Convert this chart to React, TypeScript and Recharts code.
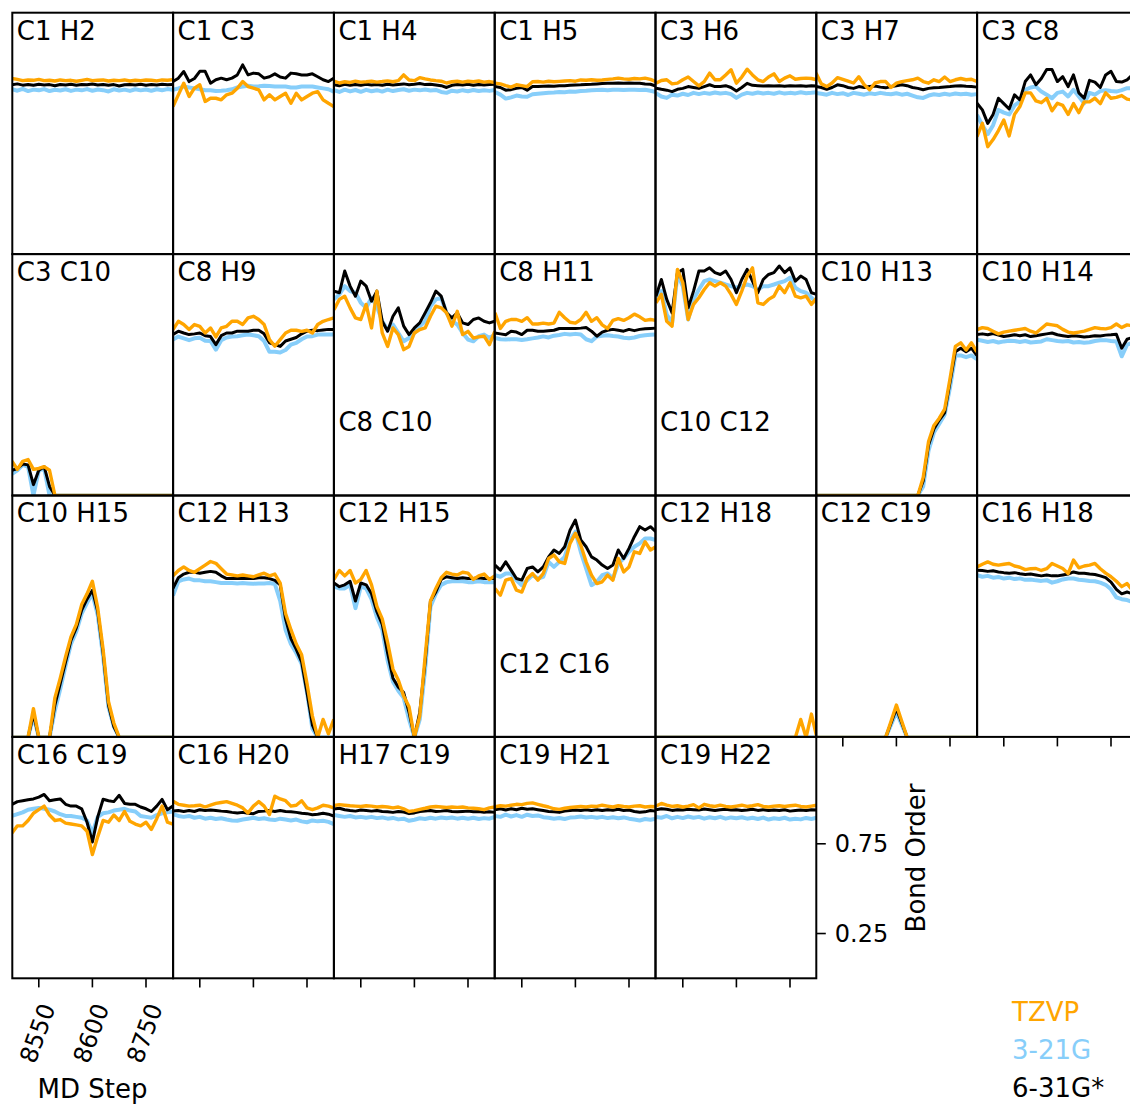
import React from 'react';
import { LineChart, Line, XAxis, YAxis } from 'recharts';

const FONT = '"DejaVu Sans", sans-serif';
const ORANGE = '#ffa500';
const SKY = '#87cefa';

const steps = [8500, 8510, 8520, 8530, 8540, 8550, 8560, 8570, 8580, 8590, 8600, 8610, 8620, 8630, 8640, 8650, 8660, 8670, 8680, 8690, 8700, 8710, 8720, 8730, 8740, 8750, 8760, 8770, 8780, 8790, 8800];

const bonds = [
  'C1 H2', 'C1 C3', 'C1 H4', 'C1 H5', 'C3 H6', 'C3 H7', 'C3 C8',
  'C3 C10', 'C8 H9', 'C8 C10', 'C8 H11', 'C10 C12', 'C10 H13', 'C10 H14',
  'C10 H15', 'C12 H13', 'C12 H15', 'C12 C16', 'C12 H18', 'C12 C19', 'C16 H18',
  'C16 C19', 'C16 H20', 'H17 C19', 'C19 H21', 'C19 H22',
];
const lowTitles = ['C8 C10', 'C10 C12', 'C12 C16'];

const stepTicks = [8550, 8650, 8750];
const stepTickLabels = ['8550', '8600', '8750'];
const orderTicks = [0.25, 0.75];

const seriesNames = ['TZVP', '3-21G', '6-31G*'];
const seriesColors = [ORANGE, SKY, '#000000'];

// TZVP bond orders, one list per bond (same order as bonds)
const tzvp = [
  [0.98, 0.975, 0.968, 0.972, 0.97, 0.975, 0.968, 0.97, 0.966, 0.972, 0.968, 0.97, 0.965, 0.97, 0.975, 0.968, 0.97, 0.972, 0.966, 0.97, 0.968, 0.972, 0.966, 0.97, 0.968, 0.972, 0.97, 0.967, 0.972, 0.97, 0.974],
  [0.824, 0.889, 0.954, 0.88, 0.926, 0.945, 0.852, 0.87, 0.87, 0.861, 0.889, 0.898, 0.926, 0.963, 0.935, 0.926, 0.917, 0.861, 0.889, 0.861, 0.88, 0.898, 0.842, 0.898, 0.861, 0.88, 0.898, 0.907, 0.861, 0.842, 0.824],
  [0.965, 0.955, 0.962, 0.958, 0.965, 0.96, 0.962, 0.965, 0.96, 0.963, 0.967, 0.962, 0.968, 1.0, 0.972, 0.968, 0.985, 0.978, 0.972, 0.968, 0.965, 0.955, 0.962, 0.965, 0.96, 0.965, 0.962, 0.966, 0.96, 0.963, 0.958],
  [0.954, 0.95, 0.94, 0.932, 0.945, 0.94, 0.935, 0.962, 0.963, 0.96, 0.965, 0.962, 0.964, 0.966, 0.968, 0.965, 0.972, 0.97, 0.973, 0.97, 0.972, 0.975, 0.978, 0.982, 0.978, 0.976, 0.98, 0.978, 0.982, 0.975, 0.963],
  [0.954, 0.969, 0.973, 0.95, 0.954, 0.973, 0.988, 0.963, 0.939, 0.963, 1.01, 0.973, 0.973, 1.0, 1.029, 0.954, 0.988, 1.032, 1.0, 0.973, 0.963, 0.988, 1.006, 0.963, 0.982, 0.995, 0.976, 0.98, 0.982, 0.98, 0.973],
  [1.01, 0.95, 0.935, 0.955, 0.985, 0.975, 0.965, 0.955, 0.99, 0.945, 0.917, 0.955, 0.963, 0.963, 0.93, 0.954, 0.963, 0.968, 0.973, 0.982, 0.963, 0.954, 0.973, 0.963, 0.988, 0.963, 0.973, 0.98, 0.973, 0.976, 0.963],
  [0.656, 0.73, 0.6, 0.64, 0.69, 0.749, 0.66, 0.78, 0.824, 0.9, 0.9, 0.855, 0.845, 0.87, 0.8, 0.842, 0.83, 0.78, 0.84, 0.79, 0.85, 0.85, 0.87, 0.84, 0.9, 0.87, 0.875, 0.885, 0.865, 0.86, 0.87],
  [0.19, 0.145, 0.19, 0.2, 0.145, 0.15, 0.16, 0.14, 0, 0, 0, 0, 0, 0, 0, 0, 0, 0, 0, 0, 0, 0, 0, 0, 0, 0, 0, 0, 0, 0, 0],
  [0.924, 0.97, 0.952, 0.924, 0.952, 0.942, 0.905, 0.933, 0.883, 0.933, 0.942, 0.97, 0.97, 0.952, 0.989, 0.998, 0.98, 0.952, 0.868, 0.831, 0.868, 0.905, 0.92, 0.92, 0.914, 0.92, 0.905, 0.952, 0.97, 0.98, 0.989],
  [1.035, 1.092, 1.11, 1.045, 0.989, 0.98, 1.064, 0.933, 1.138, 0.905, 0.83, 0.933, 0.896, 0.812, 0.83, 0.905, 0.924, 0.933, 0.998, 1.054, 1.045, 1.017, 0.943, 1.026, 0.896, 0.914, 0.877, 0.883, 0.887, 0.84, 0.914],
  [1.017, 0.93, 0.97, 0.98, 0.98, 0.97, 0.99, 0.955, 0.955, 0.96, 0.955, 0.96, 1.02, 0.99, 0.965, 0.96, 0.98, 1.02, 0.97, 0.99, 0.95, 0.93, 0.975, 0.985, 0.975, 0.99, 1.01, 0.995, 0.975, 0.98, 0.975],
  [1.073, 1.12, 0.97, 0.943, 1.259, 1.185, 0.98, 1.064, 1.101, 1.147, 1.185, 1.166, 1.185, 1.166, 1.12, 1.064, 1.138, 1.222, 1.268, 1.073, 1.064, 1.092, 1.11, 1.166, 1.129, 1.185, 1.11, 1.101, 1.11, 1.064, 1.101],
  [0, 0, 0, 0, 0, 0, 0, 0, 0, 0, 0, 0, 0, 0, 0, 0, 0, 0, 0, 0, 0.1, 0.3, 0.39, 0.43, 0.48, 0.65, 0.83, 0.85, 0.81, 0.85, 0.8],
  [0.924, 0.935, 0.93, 0.915, 0.9, 0.91, 0.915, 0.92, 0.925, 0.93, 0.915, 0.905, 0.93, 0.955, 0.95, 0.945, 0.925, 0.91, 0.905, 0.91, 0.915, 0.925, 0.935, 0.93, 0.928, 0.935, 0.955, 0.935, 0.95, 0.945, 0.94],
  [0, 0, 0, 0, 0.16, 0, 0, 0, 0.22, 0.33, 0.45, 0.56, 0.63, 0.74, 0.8, 0.87, 0.72, 0.49, 0.2, 0.08, 0, 0, 0, 0, 0, 0, 0, 0, 0, 0, 0],
  [0.9, 0.93, 0.95, 0.93, 0.92, 0.94, 0.96, 0.98, 0.97, 0.94, 0.91, 0.905, 0.9, 0.905, 0.9, 0.895, 0.905, 0.915, 0.9, 0.91, 0.86, 0.69, 0.6, 0.52, 0.46, 0.3, 0.12, 0, 0.1, 0.02, 0.1],
  [0.88, 0.93, 0.9, 0.93, 0.86, 0.88, 0.93, 0.85, 0.73, 0.66, 0.53, 0.38, 0.32, 0.23, 0.17, 0, 0.12, 0.45, 0.76, 0.83, 0.89, 0.92, 0.91, 0.905, 0.92, 0.915, 0.88, 0.9, 0.91, 0.88, 0.9],
  [0.829, 0.792, 0.876, 0.885, 0.82, 0.81, 0.885, 0.913, 0.876, 0.913, 0.997, 1.016, 0.978, 0.969, 1.081, 1.137, 1.072, 0.978, 0.904, 0.857, 0.867, 0.904, 0.876, 0.997, 0.922, 0.95, 1.034, 1.025, 1.09, 1.044, 1.062],
  [0, 0, 0, 0, 0, 0, 0, 0, 0, 0, 0, 0, 0, 0, 0, 0, 0, 0, 0, 0, 0, 0, 0, 0, 0, 0, 0, 0.1, 0, 0.13, 0],
  [0, 0, 0, 0, 0, 0, 0, 0, 0, 0, 0, 0, 0, 0, 0.09, 0.18, 0.09, 0, 0, 0, 0, 0, 0, 0, 0, 0, 0, 0, 0, 0, 0],
  [0.95, 0.965, 0.978, 0.965, 0.96, 0.965, 0.969, 0.955, 0.948, 0.935, 0.94, 0.941, 0.93, 0.94, 0.969, 0.955, 0.941, 0.913, 0.988, 0.945, 0.955, 0.96, 0.969, 0.94, 0.915, 0.895, 0.87, 0.84, 0.857, 0.82, 0.83],
  [0.81, 0.85, 0.85, 0.88, 0.92, 0.94, 0.96, 0.91, 0.88, 0.885, 0.865, 0.86, 0.855, 0.85, 0.82, 0.69, 0.79, 0.88, 0.87, 0.91, 0.88, 0.93, 0.875, 0.86, 0.85, 0.87, 0.83, 0.89, 0.96, 0.87, 0.86],
  [0.987, 0.97, 0.965, 0.96, 0.962, 0.965, 0.955, 0.965, 0.975, 0.98, 0.985, 0.975, 0.965, 0.95, 0.922, 0.96, 0.985, 0.96, 0.913, 1.015, 1.0, 0.99, 0.96, 0.965, 0.99, 0.95, 0.94, 0.95, 0.965, 0.96, 0.95],
  [0.963, 0.968, 0.965, 0.962, 0.96, 0.958, 0.962, 0.96, 0.955, 0.958, 0.955, 0.95, 0.955, 0.945, 0.93, 0.935, 0.942, 0.948, 0.955, 0.958, 0.955, 0.952, 0.955, 0.953, 0.955, 0.95, 0.948, 0.945, 0.94, 0.95, 0.955],
  [0.956, 0.962, 0.96, 0.965, 0.97, 0.968, 0.975, 0.978, 0.97, 0.962, 0.955, 0.945, 0.942, 0.948, 0.952, 0.955, 0.958, 0.955, 0.96, 0.958, 0.965, 0.96, 0.955, 0.962, 0.958, 0.955, 0.96, 0.962, 0.955, 0.958, 0.956],
  [0.96, 0.975, 0.965, 0.958, 0.962, 0.955, 0.96, 0.968, 0.95, 0.97, 0.962, 0.958, 0.965, 0.958, 0.955, 0.96, 0.965, 0.958, 0.962, 0.968, 0.958, 0.955, 0.96, 0.962, 0.958, 0.962, 0.965, 0.958, 0.955, 0.96, 0.965],
];

// 3-21G bond orders
const g321 = [
  [0.92, 0.912, 0.922, 0.91, 0.918, 0.914, 0.921, 0.91, 0.917, 0.913, 0.92, 0.911, 0.918, 0.914, 0.921, 0.912, 0.919, 0.915, 0.908, 0.92, 0.913, 0.918, 0.911, 0.92, 0.914, 0.919, 0.912, 0.92, 0.915, 0.921, 0.917],
  [0.917, 0.925, 0.935, 0.93, 0.925, 0.92, 0.915, 0.915, 0.91, 0.912, 0.915, 0.92, 0.93, 0.935, 0.94, 0.935, 0.937, 0.94, 0.938, 0.935, 0.935, 0.935, 0.93, 0.93, 0.935, 0.935, 0.935, 0.93, 0.925, 0.92, 0.907],
  [0.915, 0.905, 0.918, 0.908, 0.916, 0.906, 0.917, 0.909, 0.915, 0.907, 0.918, 0.91, 0.916, 0.92, 0.912, 0.918, 0.914, 0.919, 0.913, 0.916, 0.905, 0.9, 0.912, 0.908, 0.915, 0.909, 0.916, 0.91, 0.915, 0.911, 0.916],
  [0.905, 0.89, 0.868, 0.875, 0.885, 0.88, 0.878, 0.892, 0.895, 0.898, 0.9, 0.902, 0.905, 0.904, 0.907, 0.906, 0.91, 0.912, 0.915, 0.916, 0.917, 0.915, 0.917, 0.918, 0.916, 0.917, 0.918, 0.916, 0.917, 0.912, 0.905],
  [0.898, 0.88, 0.872, 0.89, 0.885, 0.895, 0.888, 0.9, 0.893, 0.9, 0.895, 0.902, 0.896, 0.9, 0.893, 0.872, 0.89, 0.9, 0.895, 0.902, 0.897, 0.9, 0.895, 0.903, 0.896, 0.9, 0.897, 0.903, 0.898, 0.9, 0.903],
  [0.9, 0.895, 0.89, 0.9, 0.893, 0.898, 0.888, 0.9, 0.895, 0.89, 0.898, 0.893, 0.9, 0.895, 0.892, 0.898, 0.89, 0.895, 0.885, 0.875, 0.872, 0.885, 0.892, 0.888, 0.895, 0.89, 0.896, 0.892, 0.895, 0.89, 0.893],
  [0.777, 0.72, 0.67, 0.72, 0.805, 0.79, 0.78, 0.83, 0.852, 0.917, 0.93, 0.935, 0.907, 0.89, 0.87, 0.9, 0.907, 0.88, 0.917, 0.88, 0.842, 0.9, 0.89, 0.91, 0.915, 0.91, 0.907, 0.915, 0.926, 0.925, 0.93],
  [0.12, 0.14, 0.17, 0.16, 0, 0.14, 0.15, 0, 0, 0, 0, 0, 0, 0, 0, 0, 0, 0, 0, 0, 0, 0, 0, 0, 0, 0, 0, 0, 0, 0, 0],
  [0.868, 0.885, 0.875, 0.865, 0.875, 0.878, 0.862, 0.86, 0.812, 0.865, 0.88, 0.885, 0.887, 0.892, 0.896, 0.892, 0.887, 0.86, 0.8, 0.8, 0.796, 0.81, 0.84, 0.85, 0.87, 0.885, 0.887, 0.896, 0.896, 0.896, 0.896],
  [1.092, 1.12, 1.166, 1.138, 1.129, 1.073, 1.045, 1.101, 1.054, 0.97, 0.924, 0.952, 0.905, 0.859, 0.877, 0.905, 0.943, 0.97, 1.054, 1.092, 1.101, 1.017, 0.97, 0.952, 0.905, 0.868, 0.859, 0.887, 0.896, 0.877, 0.896],
  [0.878, 0.87, 0.868, 0.87, 0.87, 0.866, 0.87, 0.875, 0.88, 0.886, 0.88, 0.89, 0.894, 0.9, 0.896, 0.9, 0.896, 0.87, 0.859, 0.885, 0.89, 0.892, 0.888, 0.885, 0.878, 0.876, 0.88, 0.888, 0.892, 0.895, 0.896],
  [1.092, 1.138, 1.008, 0.961, 1.231, 1.166, 0.98, 1.092, 1.147, 1.194, 1.203, 1.194, 1.185, 1.175, 1.166, 1.157, 1.166, 1.175, 1.166, 1.147, 1.166, 1.166, 1.175, 1.185, 1.194, 1.213, 1.157, 1.138, 1.129, 1.101, 1.073],
  [0, 0, 0, 0, 0, 0, 0, 0, 0, 0, 0, 0, 0, 0, 0, 0, 0, 0, 0, 0, 0.05, 0.25, 0.35, 0.4, 0.45, 0.6, 0.78, 0.78, 0.77, 0.78, 0.76],
  [0.868, 0.862, 0.855, 0.86, 0.852, 0.858, 0.862, 0.86, 0.855, 0.86, 0.852, 0.855, 0.858, 0.87, 0.865, 0.86, 0.858, 0.86, 0.852, 0.855, 0.85, 0.853, 0.86, 0.864, 0.865, 0.86, 0.858, 0.775, 0.84, 0.85, 0.855],
  [0, 0, 0, 0, 0.12, 0, 0, 0, 0.15, 0.27, 0.4, 0.52, 0.59, 0.69, 0.75, 0.8, 0.68, 0.45, 0.17, 0.06, 0, 0, 0, 0, 0, 0, 0, 0, 0, 0, 0],
  [0.79, 0.87, 0.88, 0.885, 0.875, 0.875, 0.87, 0.87, 0.865, 0.86, 0.86, 0.86, 0.858, 0.86, 0.858, 0.856, 0.858, 0.858, 0.86, 0.855, 0.76, 0.6, 0.52, 0.47, 0.41, 0.25, 0.05, 0, 0, 0, 0],
  [0.84, 0.83, 0.83, 0.85, 0.72, 0.84, 0.83, 0.77, 0.67, 0.6, 0.43, 0.31, 0.26, 0.22, 0.1, 0, 0.1, 0.38, 0.73, 0.8, 0.85, 0.865, 0.87, 0.87, 0.87, 0.865, 0.865, 0.87, 0.865, 0.865, 0.865],
  [0.904, 0.895, 0.913, 0.913, 0.876, 0.848, 0.876, 0.904, 0.885, 0.895, 0.978, 0.95, 0.978, 1.006, 1.1, 1.146, 1.034, 0.941, 0.848, 0.867, 0.904, 0.913, 0.885, 0.969, 0.997, 1.034, 1.062, 1.081, 1.108, 1.108, 1.1],
  [0, 0, 0, 0, 0, 0, 0, 0, 0, 0, 0, 0, 0, 0, 0, 0, 0, 0, 0, 0, 0, 0, 0, 0, 0, 0, 0, 0, 0, 0, 0],
  [0, 0, 0, 0, 0, 0, 0, 0, 0, 0, 0, 0, 0, 0, 0.07, 0.14, 0.07, 0, 0, 0, 0, 0, 0, 0, 0, 0, 0, 0, 0, 0, 0],
  [0.904, 0.895, 0.9, 0.89, 0.894, 0.885, 0.89, 0.882, 0.886, 0.878, 0.88, 0.875, 0.872, 0.876, 0.862, 0.87, 0.88, 0.885, 0.885, 0.878, 0.875, 0.872, 0.87, 0.862, 0.85, 0.825, 0.78, 0.77, 0.765, 0.755, 0.75],
  [0.905, 0.915, 0.925, 0.94, 0.945, 0.95, 0.945, 0.94, 0.93, 0.915, 0.905, 0.905, 0.9, 0.895, 0.88, 0.81, 0.9, 0.92, 0.925, 0.935, 0.94, 0.945, 0.935, 0.93, 0.905, 0.9, 0.895, 0.91, 0.92, 0.925, 0.93],
  [0.915, 0.905, 0.9, 0.905, 0.895, 0.9, 0.89, 0.895, 0.888, 0.892, 0.885, 0.88, 0.878, 0.885, 0.89, 0.895, 0.888, 0.892, 0.885, 0.882, 0.89, 0.885, 0.88, 0.885, 0.875, 0.87, 0.88, 0.875, 0.878, 0.872, 0.86],
  [0.91, 0.905, 0.9, 0.905, 0.897, 0.9, 0.895, 0.9, 0.893, 0.897, 0.89, 0.894, 0.886, 0.89, 0.878, 0.884, 0.892, 0.888, 0.895, 0.89, 0.896, 0.892, 0.896, 0.89, 0.895, 0.89, 0.895, 0.888, 0.893, 0.89, 0.9],
  [0.905, 0.9, 0.912, 0.902, 0.91, 0.9, 0.912, 0.905, 0.908, 0.898, 0.895, 0.89, 0.894, 0.888, 0.896, 0.898, 0.902, 0.896, 0.9, 0.895, 0.9, 0.893, 0.898, 0.892, 0.897, 0.89, 0.885, 0.88, 0.888, 0.884, 0.89],
  [0.9, 0.895, 0.905, 0.892, 0.9, 0.893, 0.902, 0.895, 0.9, 0.89, 0.898, 0.892, 0.9, 0.89, 0.897, 0.892, 0.898, 0.89, 0.895, 0.888, 0.896, 0.885, 0.892, 0.888, 0.895, 0.885, 0.89, 0.886, 0.894, 0.888, 0.895],
];

// 6-31G* bond orders
const g631 = [
  [0.945, 0.95, 0.943, 0.947, 0.942, 0.948, 0.944, 0.946, 0.94, 0.947, 0.944, 0.948, 0.943, 0.946, 0.945, 0.949, 0.944, 0.947, 0.943, 0.946, 0.938, 0.945, 0.947, 0.944, 0.948, 0.943, 0.946, 0.944, 0.948, 0.945, 0.947],
  [0.963, 0.982, 1.019, 0.963, 0.98, 1.02, 1.02, 0.954, 0.973, 0.982, 0.973, 0.982, 1.0, 1.056, 1.0, 1.01, 1.006, 0.982, 0.99, 1.006, 0.988, 0.982, 1.01, 1.006, 1.0, 1.0, 1.006, 0.99, 0.973, 0.963, 0.982],
  [0.945, 0.94, 0.948, 0.942, 0.947, 0.943, 0.948, 0.944, 0.946, 0.942, 0.948, 0.944, 0.947, 0.95, 0.945, 0.948, 0.952, 0.946, 0.948, 0.944, 0.94, 0.93, 0.942, 0.946, 0.944, 0.948, 0.943, 0.947, 0.944, 0.946, 0.948],
  [0.935, 0.93, 0.915, 0.918, 0.925, 0.93, 0.915, 0.935, 0.936, 0.937, 0.938, 0.937, 0.94, 0.939, 0.942, 0.944, 0.945, 0.947, 0.948, 0.95, 0.952, 0.954, 0.953, 0.955, 0.954, 0.955, 0.953, 0.954, 0.95, 0.948, 0.938],
  [0.926, 0.92, 0.915, 0.907, 0.92, 0.925, 0.935, 0.93, 0.925, 0.935, 0.945, 0.935, 0.935, 0.94, 0.93, 0.91, 0.93, 0.953, 0.942, 0.94, 0.938, 0.94, 0.938, 0.94, 0.937, 0.94, 0.938, 0.94, 0.937, 0.94, 0.938],
  [0.935, 0.93, 0.92, 0.93, 0.945, 0.94, 0.93, 0.925, 0.935, 0.93, 0.935, 0.938, 0.932, 0.928, 0.935, 0.94, 0.945, 0.94, 0.93, 0.925, 0.917, 0.925, 0.928, 0.93, 0.933, 0.935, 0.938, 0.94, 0.937, 0.935, 0.932],
  [0.842, 0.805, 0.73, 0.78, 0.87, 0.84, 0.81, 0.889, 0.861, 0.963, 1.0, 0.945, 0.98, 1.03, 1.03, 0.963, 0.99, 0.935, 1.0, 0.9, 0.87, 0.97, 0.96, 0.93, 1.0, 1.02, 0.963, 0.96, 0.973, 1.0, 0.99],
  [0.14, 0.15, 0.175, 0.17, 0.06, 0.14, 0.16, 0.05, 0, 0, 0, 0, 0, 0, 0, 0, 0, 0, 0, 0, 0, 0, 0, 0, 0, 0, 0, 0, 0, 0, 0],
  [0.896, 0.915, 0.905, 0.896, 0.9, 0.905, 0.89, 0.885, 0.84, 0.89, 0.905, 0.905, 0.915, 0.915, 0.915, 0.92, 0.92, 0.9, 0.85, 0.84, 0.83, 0.86, 0.87, 0.88, 0.9, 0.915, 0.92, 0.918, 0.922, 0.925, 0.924],
  [1.138, 1.129, 1.25, 1.166, 1.11, 1.194, 1.166, 1.082, 1.138, 0.97, 0.915, 0.998, 1.045, 0.943, 0.896, 0.933, 0.961, 1.017, 1.073, 1.138, 1.11, 1.017, 0.989, 1.017, 0.961, 0.952, 0.98, 0.989, 0.97, 0.961, 0.97],
  [0.905, 0.9, 0.895, 0.914, 0.91, 0.896, 0.92, 0.92, 0.915, 0.915, 0.918, 0.92, 0.93, 0.93, 0.93, 0.93, 0.932, 0.935, 0.915, 0.887, 0.91, 0.92, 0.925, 0.92, 0.915, 0.925, 0.918, 0.925, 0.928, 0.93, 0.932],
  [1.11, 1.203, 1.092, 1.017, 1.241, 1.259, 1.045, 1.138, 1.25, 1.25, 1.268, 1.241, 1.231, 1.25, 1.203, 1.129, 1.203, 1.259, 1.194, 1.129, 1.203, 1.231, 1.241, 1.278, 1.241, 1.268, 1.194, 1.222, 1.203, 1.129, 1.12],
  [0, 0, 0, 0, 0, 0, 0, 0, 0, 0, 0, 0, 0, 0, 0, 0, 0, 0, 0, 0, 0.08, 0.28, 0.37, 0.42, 0.46, 0.63, 0.8, 0.82, 0.8, 0.82, 0.78],
  [0.896, 0.9, 0.895, 0.902, 0.893, 0.885, 0.89, 0.895, 0.89, 0.895, 0.885, 0.89, 0.895, 0.9, 0.905, 0.895, 0.89, 0.885, 0.89, 0.887, 0.883, 0.885, 0.89, 0.888, 0.893, 0.895, 0.898, 0.82, 0.87, 0.88, 0.885],
  [0, 0, 0, 0, 0.13, 0, 0, 0, 0.18, 0.3, 0.42, 0.54, 0.61, 0.71, 0.77, 0.82, 0.7, 0.47, 0.18, 0.06, 0, 0, 0, 0, 0, 0, 0, 0, 0, 0, 0],
  [0.83, 0.89, 0.91, 0.92, 0.92, 0.915, 0.92, 0.925, 0.92, 0.9, 0.885, 0.885, 0.885, 0.885, 0.885, 0.885, 0.89, 0.89, 0.885, 0.875, 0.85, 0.66, 0.55, 0.49, 0.42, 0.25, 0.07, 0, 0, 0, 0],
  [0.86, 0.84, 0.85, 0.87, 0.76, 0.86, 0.85, 0.8, 0.7, 0.63, 0.47, 0.33, 0.28, 0.25, 0.14, 0, 0.14, 0.42, 0.76, 0.81, 0.88, 0.895, 0.89, 0.885, 0.89, 0.885, 0.885, 0.89, 0.885, 0.885, 0.885],
  [0.96, 0.932, 0.978, 0.932, 0.885, 0.876, 0.941, 0.95, 0.922, 0.95, 1.006, 1.044, 1.025, 1.062, 1.155, 1.211, 1.1, 1.062, 1.006, 0.988, 0.96, 0.941, 0.96, 1.044, 0.997, 1.053, 1.118, 1.174, 1.155, 1.174, 1.146],
  [0, 0, 0, 0, 0, 0, 0, 0, 0, 0, 0, 0, 0, 0, 0, 0, 0, 0, 0, 0, 0, 0, 0, 0, 0, 0, 0, 0, 0, 0, 0],
  [0, 0, 0, 0, 0, 0, 0, 0, 0, 0, 0, 0, 0, 0, 0.08, 0.16, 0.08, 0, 0, 0, 0, 0, 0, 0, 0, 0, 0, 0, 0, 0, 0],
  [0.932, 0.93, 0.925, 0.928, 0.922, 0.918, 0.915, 0.918, 0.912, 0.908, 0.91, 0.905, 0.9, 0.905, 0.9, 0.9, 0.905, 0.91, 0.922, 0.915, 0.915, 0.91, 0.908, 0.9, 0.89, 0.865, 0.825, 0.8, 0.81, 0.8, 0.795],
  [0.969, 0.985, 0.99, 0.995, 1.0, 1.01, 1.025, 0.99, 0.995, 1.0, 0.97, 0.96, 0.96, 0.945, 0.87, 0.76, 0.9, 0.998, 0.99, 0.985, 1.02, 0.975, 0.97, 0.97, 0.955, 0.945, 0.93, 0.96, 0.997, 0.94, 0.96],
  [0.932, 0.935, 0.93, 0.935, 0.93, 0.94, 0.935, 0.938, 0.935, 0.932, 0.93, 0.925, 0.922, 0.925, 0.92, 0.918, 0.93, 0.932, 0.935, 0.93, 0.935, 0.93, 0.928, 0.925, 0.92, 0.918, 0.912, 0.915, 0.92, 0.915, 0.905],
  [0.944, 0.948, 0.94, 0.935, 0.932, 0.938, 0.935, 0.932, 0.935, 0.93, 0.928, 0.925, 0.93, 0.927, 0.918, 0.922, 0.93, 0.932, 0.935, 0.93, 0.932, 0.935, 0.93, 0.928, 0.93, 0.932, 0.928, 0.93, 0.926, 0.928, 0.925],
  [0.94, 0.945, 0.938, 0.945, 0.94, 0.948, 0.942, 0.945, 0.94, 0.935, 0.93, 0.928, 0.925, 0.932, 0.935, 0.938, 0.935, 0.94, 0.936, 0.94, 0.935, 0.94, 0.937, 0.942, 0.935, 0.938, 0.93, 0.926, 0.928, 0.935, 0.932],
  [0.94, 0.945, 0.942, 0.936, 0.94, 0.938, 0.942, 0.94, 0.938, 0.944, 0.94, 0.936, 0.94, 0.942, 0.938, 0.94, 0.936, 0.938, 0.942, 0.936, 0.94, 0.935, 0.938, 0.936, 0.94, 0.932, 0.935, 0.938, 0.935, 0.94, 0.938],
];

// grid geometry (px)
const PW = 160.8;
const PH = 241.4;
const X0 = 12.3;
const Y0 = 12.7;
const COLS = 7;
const Y_MAX = 1.345;

const panelLeft = (p: number) => X0 + (p % COLS) * PW;
const panelTop = (p: number) => Y0 + Math.floor(p / COLS) * PH;

function StepTick(props: any) {
  const { x, y, payload } = props;
  const label = stepTickLabels[stepTicks.indexOf(payload.value)];
  const cx = x - 1;
  const cy = y + 44;
  return (
    <text x={cx} y={cy} transform={`rotate(-70 ${cx} ${cy})`} textAnchor="middle"
      dominantBaseline="central" fontSize={24} fontFamily={FONT} fill="#000">
      {label}
    </text>
  );
}

// tick mark only, no label
const NoLabel = () => <g />;

function Panel({ p }: { p: number }) {
  const hasXAxis = p >= 19;
  const labelled = p === 21;
  const hasYAxis = p === 25;
  const axisH = labelled ? 120 : hasXAxis ? 12 : 0;
  const axisW = hasYAxis ? 120 : 0;
  const data = steps.map((s, i) => ({ step: s, tzvp: tzvp[p][i], g321: g321[p][i], g631: g631[p][i] }));

  return (
    <div style={{ position: 'absolute', left: panelLeft(p) - 2, top: panelTop(p) - 2 }}>
      <LineChart width={PW + 4 + axisW} height={PH + 4 + axisH} data={data}
        margin={{ top: 2, right: 2, bottom: 2, left: 2 }}>
        <XAxis type="number" dataKey="step" domain={[8500, 8800]} allowDataOverflow
          hide={!hasXAxis} height={axisH} ticks={stepTicks} interval={0}
          tickSize={9} axisLine={false} stroke="#000"
          tickLine={{ stroke: '#000', strokeWidth: 1.6 }}
          tick={labelled ? <StepTick /> : <NoLabel />} />
        <YAxis type="number" domain={[0, Y_MAX]} allowDataOverflow hide={!hasYAxis}
          orientation="right" width={axisW} ticks={orderTicks} interval={0}
          tickSize={9} tickMargin={9} axisLine={false} stroke="#000"
          tickLine={{ stroke: '#000', strokeWidth: 1.6 }}
          tick={{ fill: '#000', fontSize: 24, fontFamily: FONT }} />
        <Line type="linear" dataKey="g321" stroke={SKY} strokeWidth={4} dot={false}
          strokeLinejoin="round" isAnimationActive={false} />
        <Line type="linear" dataKey="g631" stroke="#000" strokeWidth={3} dot={false}
          strokeLinejoin="round" isAnimationActive={false} />
        <Line type="linear" dataKey="tzvp" stroke={ORANGE} strokeWidth={3.4} dot={false}
          strokeLinejoin="round" isAnimationActive={false} />
      </LineChart>
    </div>
  );
}

export default function App() {
  return (
    <div style={{ position: 'absolute', left: 0, top: 0, width: 1130, height: 1106, overflow: 'hidden', background: '#fff', fontFamily: FONT }}>
      {bonds.map((b, p) => <Panel key={b} p={p} />)}
      <svg width={1130} height={1106} style={{ position: 'absolute', left: 0, top: 0, pointerEvents: 'none' }}>
        {bonds.map((b, p) => (
          <rect key={`f-${b}`} x={panelLeft(p)} y={panelTop(p)} width={PW} height={PH}
            fill="none" stroke="#000" strokeWidth={2} />
        ))}
        {bonds.map((b, p) => (
          <text key={`t-${b}`} x={panelLeft(p) + 4.5} y={panelTop(p) + (lowTitles.includes(b) ? 177 : 26.8)}
            fontSize={26} fontFamily={FONT} fill="#000">{b}</text>
        ))}
        <text x={92.5} y={1098} textAnchor="middle" fontSize={26} fontFamily={FONT} fill="#000">MD Step</text>
        <text x={916} y={858} transform="rotate(-90 916 858)" textAnchor="middle" dominantBaseline="central"
          fontSize={26} fontFamily={FONT} fill="#000">Bond Order</text>
        {seriesNames.map((s, i) => (
          <text key={s} x={1012} y={1021 + i * 38} fontSize={26} fontFamily={FONT} fill={seriesColors[i]}>{s}</text>
        ))}
      </svg>
    </div>
  );
}
